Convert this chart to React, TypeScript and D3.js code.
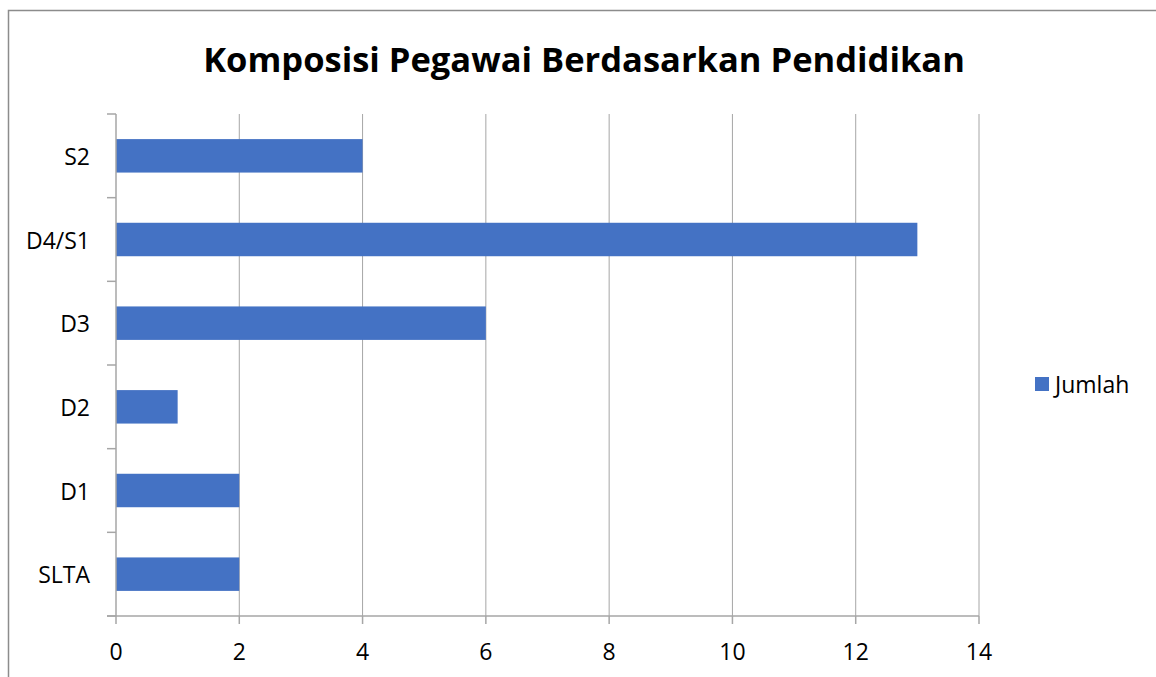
import { useEffect, useRef } from 'react';
import * as d3 from 'd3';

const categories = ['S2', 'D4/S1', 'D3', 'D2', 'D1', 'SLTA'];
const jumlah = [4, 13, 6, 1, 2, 2];
const xTicks = [0, 2, 4, 6, 8, 10, 12, 14];
const seriesName = 'Jumlah';
const chartTitle = 'Komposisi Pegawai Berdasarkan Pendidikan';

const FONT = '"Open Sans", "Noto Sans", sans-serif';
const LABEL_SIZE = '23px';

export default function App() {
  const svgRef = useRef<SVGSVGElement>(null);

  useEffect(() => {
    const width = 1156;
    const height = 677;
    const margin = { top: 114, right: 177, bottom: 61, left: 116 };

    const svg = d3.select(svgRef.current);
    svg.selectAll('*').remove();
    svg.attr('width', width).attr('height', height);

    // chart frame
    svg.append('rect')
      .attr('x', 8.5)
      .attr('y', 10.5)
      .attr('width', width + 10)
      .attr('height', height + 10)
      .attr('fill', '#fff')
      .attr('stroke', '#8c8c8c')
      .attr('stroke-width', 1.5);

    svg.append('text')
      .attr('x', 584)
      .attr('y', 72)
      .attr('text-anchor', 'middle')
      .attr('font-family', FONT)
      .attr('font-weight', 'bold')
      .attr('font-size', '34.5px')
      .attr('fill', '#000')
      .text(chartTitle);

    const x = d3.scaleLinear()
      .domain([0, 14])
      .range([margin.left, 979]);

    const y = d3.scaleBand()
      .domain(categories)
      .range([margin.top, height - margin.bottom])
      .paddingInner(0.6)
      .paddingOuter(0.3);

    const step = y.step();
    const plotTop = margin.top;
    const plotBottom = height - margin.bottom;

    // vertical gridlines
    svg.append('g')
      .selectAll('line')
      .data(xTicks.slice(1))
      .join('line')
      .attr('x1', d => x(d))
      .attr('x2', d => x(d))
      .attr('y1', plotTop)
      .attr('y2', plotBottom)
      .attr('stroke', '#a6a6a6')
      .attr('stroke-width', 1);

    // bars
    svg.append('g')
      .selectAll('rect')
      .data(categories)
      .join('rect')
      .attr('x', x(0))
      .attr('y', d => y(d)!)
      .attr('width', (d, i) => x(jumlah[i]) - x(0))
      .attr('height', y.bandwidth())
      .attr('fill', '#4472c4');

    // y axis line and ticks (at band boundaries)
    const yAxis = svg.append('g');
    yAxis.append('line')
      .attr('x1', x(0))
      .attr('x2', x(0))
      .attr('y1', plotTop)
      .attr('y2', plotBottom)
      .attr('stroke', '#a6a6a6')
      .attr('stroke-width', 1.5);
    yAxis.selectAll('.ytick')
      .data(d3.range(categories.length + 1))
      .join('line')
      .attr('class', 'ytick')
      .attr('x1', x(0) - 9)
      .attr('x2', x(0))
      .attr('y1', i => plotTop + i * step)
      .attr('y2', i => plotTop + i * step)
      .attr('stroke', '#a6a6a6')
      .attr('stroke-width', 1.5);
    yAxis.selectAll('text')
      .data(categories)
      .join('text')
      .attr('x', 90)
      .attr('y', d => y(d)! + y.bandwidth() / 2 + 1)
      .attr('dy', '0.35em')
      .attr('text-anchor', 'end')
      .attr('font-family', FONT)
      .attr('font-size', LABEL_SIZE)
      .attr('fill', '#000')
      .text(d => d);

    // x axis
    const xAxis = svg.append('g');
    xAxis.append('line')
      .attr('x1', x(0) - 9)
      .attr('x2', x(14))
      .attr('y1', plotBottom)
      .attr('y2', plotBottom)
      .attr('stroke', '#a6a6a6')
      .attr('stroke-width', 1.5);
    xAxis.selectAll('.xtick')
      .data(xTicks)
      .join('line')
      .attr('class', 'xtick')
      .attr('x1', d => x(d))
      .attr('x2', d => x(d))
      .attr('y1', plotBottom)
      .attr('y2', plotBottom + 8)
      .attr('stroke', '#a6a6a6')
      .attr('stroke-width', 1.5);
    xAxis.selectAll('text')
      .data(xTicks)
      .join('text')
      .attr('x', d => x(d))
      .attr('y', 652)
      .attr('dy', '0.35em')
      .attr('text-anchor', 'middle')
      .attr('font-family', FONT)
      .attr('font-size', LABEL_SIZE)
      .attr('fill', '#000')
      .text(d => d);

    // legend
    const legend = svg.append('g').attr('transform', 'translate(1035, 384)');
    legend.append('rect')
      .attr('x', 0)
      .attr('y', -7)
      .attr('width', 14)
      .attr('height', 14)
      .attr('fill', '#4472c4');
    legend.append('text')
      .attr('x', 20)
      .attr('y', 1)
      .attr('dy', '0.35em')
      .attr('font-family', FONT)
      .attr('font-size', LABEL_SIZE)
      .attr('fill', '#000')
      .text(seriesName);
  }, []);

  return (
    <svg ref={svgRef} style={{ position: 'absolute', left: 0, top: 0, display: 'block' }} />
  );
}
